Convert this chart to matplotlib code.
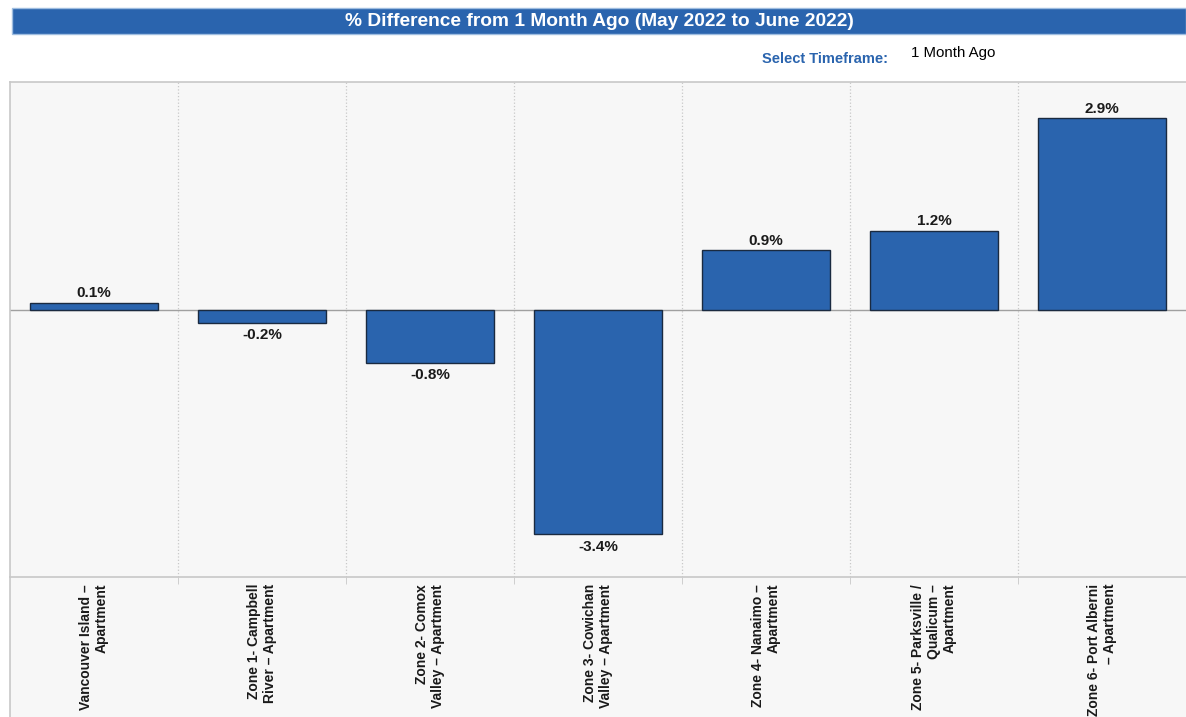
import matplotlib.pyplot as plt
from matplotlib.patches import Rectangle
from matplotlib.lines import Line2D

categories = [
    "Vancouver Island –\nApartment",
    "Zone 1- Campbell\nRiver – Apartment",
    "Zone 2- Comox\nValley – Apartment",
    "Zone 3- Cowichan\nValley – Apartment",
    "Zone 4- Nanaimo –\nApartment",
    "Zone 5- Parksville /\nQualicum –\nApartment",
    "Zone 6- Port Alberni\n– Apartment",
]
values = [0.1, -0.2, -0.8, -3.4, 0.9, 1.2, 2.9]

plt.rcParams['font.family'] = ['Liberation Sans', 'DejaVu Sans']

W, H = 1186, 717
fig = plt.figure(figsize=(W / 100, H / 100), dpi=100)
fig.patch.set_facecolor('white')

# header bar
fig.patches.append(Rectangle((12 / W, 1 - 34 / H), 1 - 12 / W, 26 / H,
                             transform=fig.transFigure, facecolor='#2a64ae',
                             edgecolor='#9fbde0', linewidth=1.0))
fig.text((12 + W) / 2 / W, 1 - 21 / H,
         "% Difference from 1 Month Ago (May 2022 to June 2022)",
         color='white', fontsize=13.8, fontweight='bold', ha='center', va='center')
fig.text(825 / W, 1 - 59 / H, "Select Timeframe:", color='#2a64ae',
         fontsize=10.5, fontweight='bold', ha='center', va='center')
fig.text(953 / W, 1 - 53 / H, "1 Month Ago", color='black',
         fontsize=10.8, ha='center', va='center')

# grey panel behind the category labels
fig.patches.append(Rectangle((10 / W, 0), 1 - 10 / W, 140 / H,
                             transform=fig.transFigure, facecolor='#f7f7f7',
                             edgecolor='none', zorder=-2))
fig.lines.append(Line2D([10 / W, 10 / W], [0, 140 / H], transform=fig.transFigure,
                        color='#c8c8c8', linewidth=1.2, zorder=-1))

ax = fig.add_axes([10 / W, 1 - 577 / H, 1176 / W, 495 / H])
ax.set_facecolor('#f7f7f7')

x = list(range(len(categories)))
bars = ax.bar(x, values, width=0.76, color='#2a64ae', edgecolor='#1a2a40',
              linewidth=1.0, zorder=3)

ax.set_xlim(-0.5, len(categories) - 0.5)
ax.set_ylim(-4.05, 3.45)
ax.axhline(0, color='#a0a0a0', linewidth=1.0, zorder=2)

# dotted separators between categories
for i in range(1, len(categories)):
    ax.axvline(i - 0.5, color='#c8c8c8', linestyle=':', linewidth=0.9, zorder=1)

for xi, v in zip(x, values):
    if v >= 0:
        ax.annotate(f"{v:.1f}%", (xi, v), xytext=(0, 2), textcoords='offset points',
                    ha='center', va='bottom', fontsize=11, fontweight='bold',
                    color='#1a1a1a')
    else:
        ax.annotate(f"{v:.1f}%", (xi, v), xytext=(0, -4), textcoords='offset points',
                    ha='center', va='top', fontsize=11, fontweight='bold',
                    color='#1a1a1a')

ax.set_yticks([])
ax.set_xticks(x)
ax.set_xticklabels(categories, rotation=90, fontsize=10, fontweight='bold',
                   color='#1a1a1a', linespacing=1.15)
for lbl in ax.get_xticklabels():
    lbl.set_multialignment('right')
ax.tick_params(axis='x', which='major', length=0, pad=5)
ax.set_xticks([i - 0.5 for i in range(1, len(categories))], minor=True)
ax.tick_params(axis='x', which='minor', length=5, color='#c8c8c8')

for side in ['top', 'left', 'bottom']:
    ax.spines[side].set_color('#c8c8c8')
    ax.spines[side].set_linewidth(1.2)
ax.spines['right'].set_visible(False)

fig.savefig('out.png', dpi=100, facecolor='white')
